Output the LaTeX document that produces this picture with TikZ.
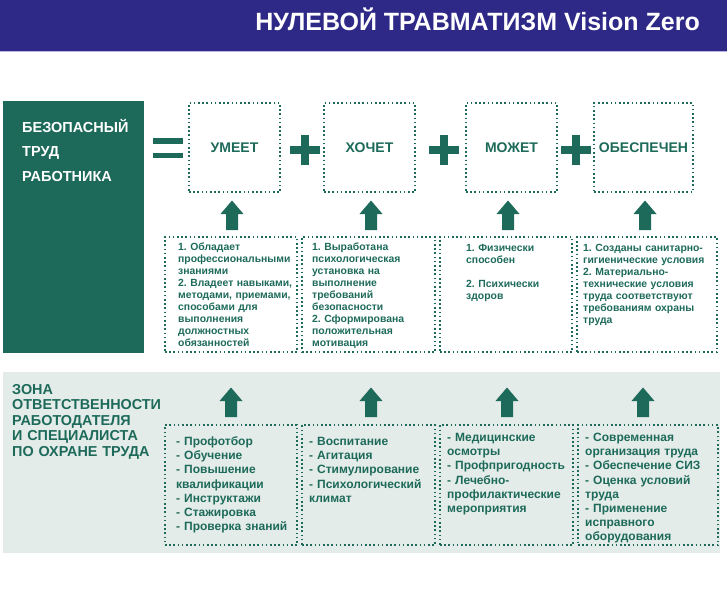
\documentclass[tikz,border=0pt]{standalone}
\usepackage{fontspec}
\setmainfont{Liberation Sans}
\definecolor{hdrblue}{RGB}{46,41,135}
\definecolor{hdrline}{RGB}{184,180,226}
\definecolor{zgreen}{RGB}{29,106,90}
\definecolor{zonebg}{RGB}{228,236,233}
\newcommand{\fsz}[2]{\fontsize{#1}{#2}\selectfont\bfseries}
\frenchspacing
\begin{document}
\begin{tikzpicture}[x=1pt,y=-1pt,
	dotbox/.style={draw=zgreen,line width=1.5pt,dash pattern=on 1.6pt off 2.6pt,inner sep=0pt},
	upblock/.pic={\fill[zgreen] (-6,0) -- (-6,-16) -- (-11.5,-16) -- (0,-29.5) -- (11.5,-16) -- (6,-16) -- (6,0) -- cycle;},
	keyword/.style={font=\fsz{14}{16},text=zgreen},
	listtext/.style={anchor=base west,inner sep=0pt,text=zgreen,align=left,text width=#1}]
		\useasboundingbox (0,0) rectangle (727,600);
		\fill[hdrblue] (0,0) rectangle (727,50.5);
		\fill[hdrline] (0,50.5) rectangle (727,52);
		\node[anchor=base east,inner sep=0pt,text=white,font=\fsz{25}{28}] (title) at (700,30.5) {НУЛЕВОЙ ТРАВМАТИЗМ Vision Zero};

		\fill[zgreen] (3,101) rectangle (144,353);
		\node[listtext=130pt,text=white,font=\fsz{14.5}{24.5}] (worker) at (22,132) {БЕЗОПАСНЫЙ\\ТРУД\\РАБОТНИКА};
		\fill[zgreen] (153,138) rectangle (183,143.5);
		\fill[zgreen] (153,152.5) rectangle (183,158);

		\node[dotbox,keyword,minimum width=91pt,minimum height=89pt] (knows) at (234.5,147.5) {УМЕЕТ};
		\node[dotbox,keyword,minimum width=91pt,minimum height=89pt] (wants) at (369.5,147.5) {ХОЧЕТ};
		\node[dotbox,keyword,minimum width=91pt,minimum height=89pt] (can) at (511.5,147.5) {МОЖЕТ};
		\node[dotbox,keyword,minimum width=99pt,minimum height=89pt] (provided) at (643.5,147.5) {ОБЕСПЕЧЕН};

		\fill[zgreen] (290,146) rectangle (320,154);
		\fill[zgreen] (301,135) rectangle (309,165);
		\fill[zgreen] (429,146) rectangle (459,154);
		\fill[zgreen] (440,135) rectangle (448,165);
		\fill[zgreen] (561,146) rectangle (591,154);
		\fill[zgreen] (572,135) rectangle (580,165);

		\pic at (232,230) {upblock};
		\pic at (371,230) {upblock};
		\pic at (508,230) {upblock};
		\pic at (645,230) {upblock};

		\node[dotbox,minimum width=132pt,minimum height=115pt] (knowsbox) at (231,294.5) {};
		\node[dotbox,minimum width=133pt,minimum height=115pt] (wantsbox) at (368.5,294.5) {};
		\node[dotbox,minimum width=132pt,minimum height=115pt] (canbox) at (506,294.5) {};
		\node[dotbox,minimum width=140pt,minimum height=115pt] (providedbox) at (647,294.5) {};

		\node[listtext=125pt,font=\fsz{10.4}{12}] (knowstext) at (178,250.5) {1. Обладает\\профессиональными\\знаниями\\2. Владеет навыками,\\методами, приемами,\\способами для\\выполнения\\должностных\\обязанностей};
		\node[listtext=125pt,font=\fsz{10.4}{12}] (wantstext) at (312,250.5) {1. Выработана\\психологическая\\установка на\\выполнение\\требований\\безопасности\\2. Сформирована\\положительная\\мотивация};
		\node[listtext=105pt,font=\fsz{10.4}{12}] (cantext) at (466,251) {1. Физически\\способен\\[12pt]2. Психически\\здоров};
		\node[listtext=134pt,font=\fsz{10.4}{12}] (providedtext) at (583,251.5) {1. Созданы санитарно-\\гигиенические условия\\2. Материально-\\технические условия\\труда соответствуют\\требованиям охраны\\труда};

		\fill[zonebg] (3,372) rectangle (720,553);
		\node[listtext=170pt,font=\fsz{14.4}{15.5}] (zone) at (12,394) {ЗОНА\\ОТВЕТСТВЕННОСТИ\\РАБОТОДАТЕЛЯ\\И СПЕЦИАЛИСТА\\ПО ОХРАНЕ ТРУДА};

		\pic at (231,417) {upblock};
		\pic at (371,417) {upblock};
		\pic at (507,417) {upblock};
		\pic at (643,417) {upblock};

		\node[dotbox,minimum width=132pt,minimum height=120pt] (trainbox) at (231,485) {};
		\node[dotbox,minimum width=133pt,minimum height=120pt] (motivbox) at (368.5,485) {};
		\node[dotbox,minimum width=133pt,minimum height=120pt] (medbox) at (506.5,485) {};
		\node[dotbox,minimum width=140pt,minimum height=120pt] (condbox) at (648,485) {};

		\node[listtext=125pt,font=\fsz{12}{14.2}] (traintext) at (176,445.5) {- Профотбор\\- Обучение\\- Повышение\\квалификации\\- Инструктажи\\- Стажировка\\- Проверка знаний};
		\node[listtext=125pt,font=\fsz{12}{14.2}] (motivtext) at (309,445.5) {- Воспитание\\- Агитация\\- Стимулирование\\- Психологический\\климат};
		\node[listtext=128pt,font=\fsz{12}{14.2}] (medtext) at (447,441.5) {- Медицинские\\осмотры\\- Профпригодность\\- Лечебно-\\профилактические\\мероприятия};
		\node[listtext=133pt,font=\fsz{12}{14.2}] (condtext) at (585,441.5) {- Современная\\организация труда\\- Обеспечение СИЗ\\- Оценка условий\\труда\\- Применение\\исправного\\оборудования};
	\end{tikzpicture}
\end{document}
